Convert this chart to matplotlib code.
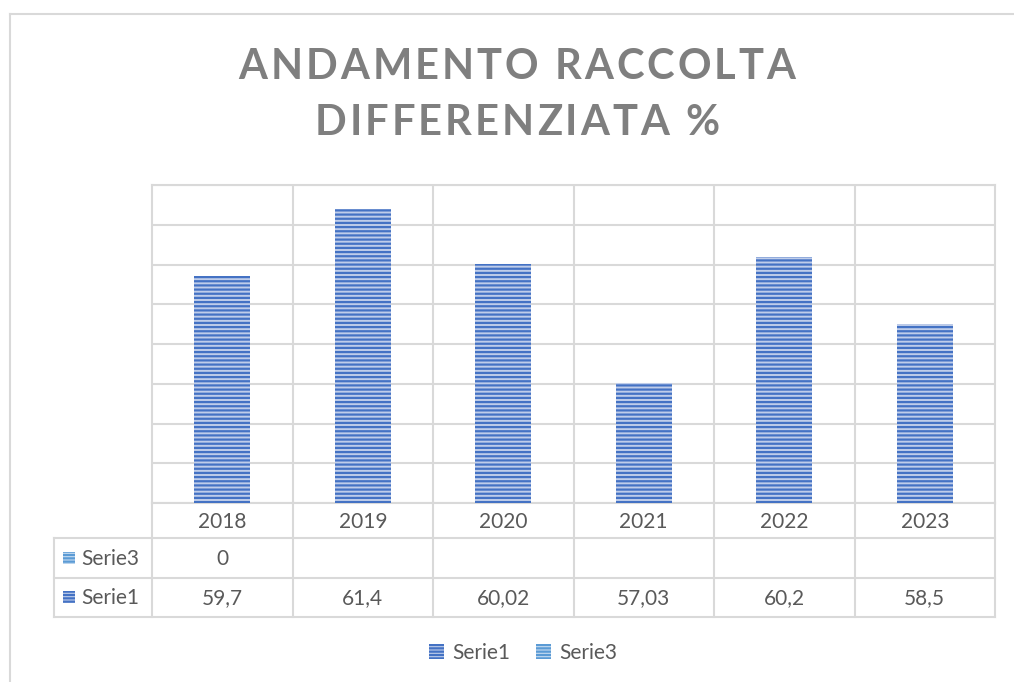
import numpy as np
import matplotlib.pyplot as plt
from matplotlib.patches import Rectangle
from matplotlib.lines import Line2D
from matplotlib.font_manager import FontProperties
import matplotlib.transforms as mtransforms

years = ["2018", "2019", "2020", "2021", "2022", "2023"]
serie1 = [59.7, 61.4, 60.02, 57.03, 60.2, 58.5]
serie1_labels = ["59,7", "61,4", "60,02", "57,03", "60,2", "58,5"]
serie3_labels = ["0", "", "", "", "", ""]
y_min, y_max = 54, 62

W, H = 1014, 682
plt.rcParams["font.family"] = ["Lato", "DejaVu Sans"]
plt.rcParams["hatch.linewidth"] = 1.6

TEXT = "#595959"
GRID = "#d9d9d9"
BLUE = "#4472c4"
LIGHT = "#5b9bd5"
FILL1 = "#bfcdea"
FILL3 = "#c6dcf1"


def fx(px):
    return px / W


def fy(py):
    return 1 - py / H


fig = plt.figure(figsize=(W / 100, H / 100), dpi=100)
renderer = fig.canvas.get_renderer()

# outer chart border (only top and left are visible)
fig.add_artist(Line2D([fx(10), fx(1014)], [fy(14), fy(14)], color=GRID, lw=1.5))
fig.add_artist(Line2D([fx(10), fx(10)], [fy(14), fy(682)], color=GRID, lw=1.5))

ax = fig.add_axes([fx(152), fy(503), fx(995) - fx(152), fy(185) - fy(503)])
x = np.arange(len(years))
ax.bar(x, serie1, width=0.4, color=FILL1, edgecolor=BLUE, linewidth=0,
       hatch="----", zorder=3)

ax.set_xlim(-0.5, len(years) - 0.5)
ax.set_ylim(y_min, y_max)
ax.set_yticks(np.arange(y_min, y_max + 1, 1))
ax.set_xticks(x[:-1] + 0.5)
ax.grid(True, color=GRID, lw=1.5)
ax.set_axisbelow(True)
ax.tick_params(length=0, labelleft=False, labelbottom=False)
for s in ax.spines.values():
    s.set_color(GRID)
    s.set_linewidth(1.5)

# data table under the plot
trans = mtransforms.blended_transform_factory(ax.transData, ax.transAxes)


def ya(py):
    return (503 - py) / (503 - 185)


for b in np.arange(-0.5, len(years), 1):
    ax.plot([b, b], [ya(503), ya(617)], color=GRID, lw=1.5, transform=trans,
            clip_on=False)
for py in [538, 578, 617]:
    fig.add_artist(Line2D([fx(54), fx(995)], [fy(py), fy(py)], color=GRID, lw=1.5))
fig.add_artist(Line2D([fx(54), fx(54)], [fy(538), fy(617)], color=GRID, lw=1.5))

for i in x:
    ax.text(i, ya(522), years[i], transform=trans, ha="center", va="center",
            fontsize=15, color=TEXT)
    ax.text(i, ya(559), serie3_labels[i], transform=trans, ha="center",
            va="center", fontsize=15, color=TEXT)
    ax.text(i, ya(598), serie1_labels[i], transform=trans, ha="center",
            va="center", fontsize=15, color=TEXT)

for name, py, fc, ec in [("Serie3", 558, FILL3, LIGHT), ("Serie1", 597, FILL1, BLUE)]:
    fig.add_artist(Rectangle((fx(63), fy(py + 6)), fx(12), fy(py - 6) - fy(py + 6),
                             facecolor=fc, edgecolor=ec, lw=0, hatch="-----"))
    fig.text(fx(81), fy(py + 1), name, ha="left", va="center", fontsize=15, color=TEXT)

# legend
handles = [Rectangle((0, 0), 1, 1, facecolor=FILL1, edgecolor=BLUE, lw=0, hatch="-----"),
           Rectangle((0, 0), 1, 1, facecolor=FILL3, edgecolor=LIGHT, lw=0, hatch="-----")]
fig.legend(handles, ["Serie1", "Serie3"], loc="center", ncol=2,
           bbox_to_anchor=(fx(523), fy(653)), frameon=False, fontsize=15,
           handlelength=0.75, handleheight=0.75, handletextpad=0.4,
           columnspacing=1.2, labelcolor=TEXT)


# title with letter spacing (Excel style)
def spaced_text(cx, cy, s, spacing, **kw):
    fp = FontProperties(family=plt.rcParams["font.family"], size=kw["fontsize"],
                        weight=kw.get("fontweight", "normal"))
    widths = [renderer.get_text_width_height_descent(c, fp, ismath=False)[0] for c in s]
    total = sum(widths) + spacing * (len(s) - 1)
    px = cx - total / 2
    for c, w in zip(s, widths):
        fig.text(fx(px), fy(cy), c, ha="left", va="center", **kw)
        px += w + spacing


title_kw = dict(fontsize=30, fontweight="bold", color="#7f7f7f")
spaced_text(517, 67, "ANDAMENTO RACCOLTA", 3.0, **title_kw)
spaced_text(517, 123, "DIFFERENZIATA %", 3.0, **title_kw)

fig.savefig("out.png", dpi=100)
